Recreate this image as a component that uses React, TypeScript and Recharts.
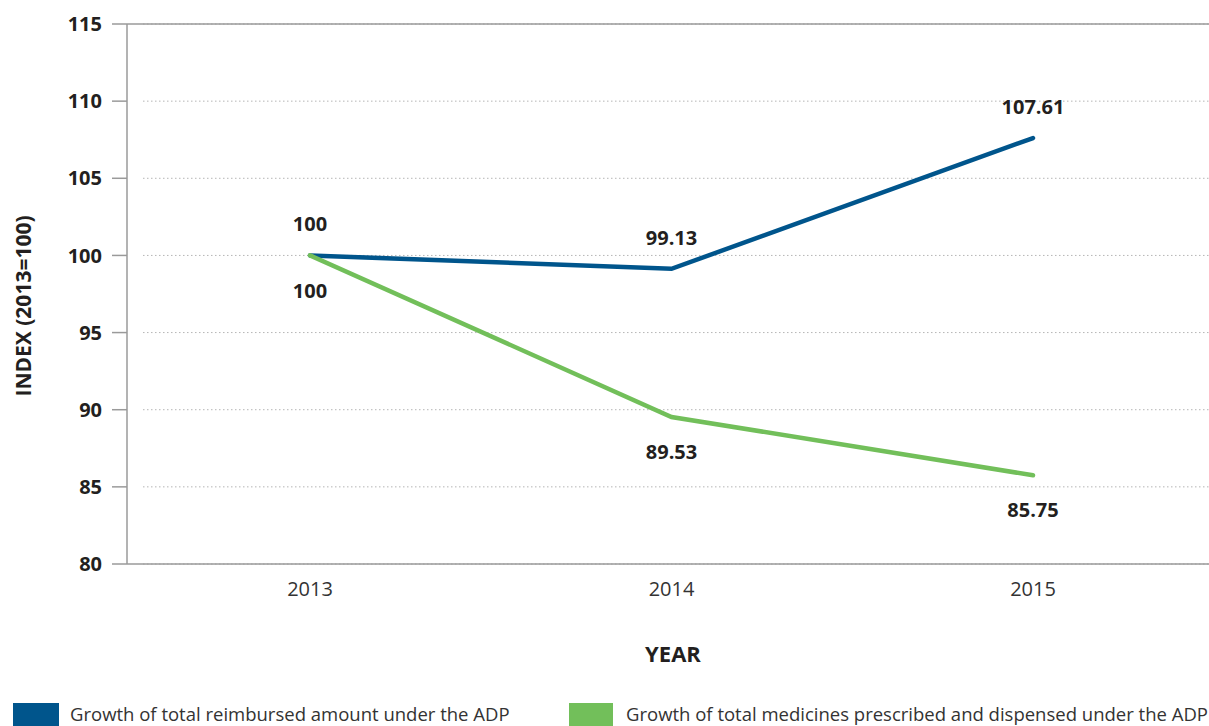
import { LineChart, Line, XAxis, YAxis, CartesianGrid, ReferenceLine, LabelList, Label, Legend } from 'recharts';

const years = ['2013', '2014', '2015'];
const reimbursed = [100, 99.13, 107.61];
const medicines = [100, 89.53, 85.75];
const yTicks = [80, 85, 90, 95, 100, 105, 110, 115];

const BLUE = '#00558c';
const GREEN = '#72bf5a';
const AXIS = '#9a9a9a';
const FONT = '"Open Sans", "Noto Sans", sans-serif';

const data = years.map((year, i) => ({
  year,
  reimbursed: reimbursed[i],
  medicines: medicines[i],
}));

const gridLine = (props: any) => {
  const { x1, x2, y1, y2 } = props;
  return (
    <line
      key={`g-${y1}`}
      x1={x1 + 16}
      x2={x2}
      y1={y1}
      y2={y2}
      stroke="#b5b5b5"
      strokeWidth={1}
      strokeDasharray="1.5 2.5"
    />
  );
};

const YTitle = (props: any) => {
  const { viewBox } = props;
  const cy = viewBox.y + viewBox.height / 2 + 12;
  return (
    <text
      x={23}
      y={cy}
      transform={`rotate(-90, 23, ${cy})`}
      textAnchor="middle"
      dominantBaseline="central"
      fontFamily={FONT}
      fontWeight={700}
      fontSize={21}
      fill="#231f20"
    >
      INDEX (2013=100)
    </text>
  );
};

const XTitle = (props: any) => {
  const { viewBox } = props;
  return (
    <text
      x={673}
      y={viewBox.y + 98}
      textAnchor="middle"
      fontFamily={FONT}
      fontWeight={700}
      fontSize={22}
      fill="#231f20"
    >
      YEAR
    </text>
  );
};

const LegendBox = () => (
  <div style={{ position: 'relative', height: 30, fontFamily: FONT, fontSize: 18.5, color: '#333' }}>
    <div style={{ position: 'absolute', left: 13, bottom: 0, width: 46, height: 23, background: BLUE }} />
    <div style={{ position: 'absolute', left: 70, bottom: 0, lineHeight: '24px', whiteSpace: 'nowrap' }}>
      Growth of total reimbursed amount under the ADP
    </div>
    <div style={{ position: 'absolute', left: 569, bottom: 0, width: 44, height: 23, background: GREEN }} />
    <div style={{ position: 'absolute', left: 626, bottom: 0, lineHeight: '24px', whiteSpace: 'nowrap' }}>
      Growth of total medicines prescribed and dispensed under the ADP
    </div>
  </div>
);

const labelStyle = { fontFamily: FONT, fontWeight: 700, fontSize: 20, fill: '#231f20' };

export default function App() {
  return (
    <div style={{ position: 'absolute', left: 0, top: 0, width: 1209, height: 726, background: '#fff' }}>
      <LineChart
        width={1209}
        height={726}
        data={data}
        margin={{ top: 24, right: 0, bottom: 0, left: 0 }}
      >
        <CartesianGrid vertical={false} horizontal={gridLine} />
        <ReferenceLine y={115} stroke={AXIS} strokeWidth={1.5} />
        <XAxis
          dataKey="year"
          height={132}
          padding={{ left: 183, right: 176 }}
          tickLine={false}
          tickSize={0}
          tickMargin={18}
          axisLine={{ stroke: AXIS, strokeWidth: 1.5 }}
          tick={{ fontFamily: FONT, fontSize: 20, fill: '#333' }}
        >
          <Label content={XTitle} />
        </XAxis>
        <YAxis
          width={127}
          domain={[80, 115]}
          ticks={yTicks}
          interval={0}
          tickSize={15}
          tickMargin={10}
          tickLine={{ stroke: AXIS, strokeWidth: 1.5 }}
          axisLine={{ stroke: AXIS, strokeWidth: 1.5 }}
          tick={{ fontFamily: FONT, fontSize: 20, fontWeight: 700, fill: '#231f20' }}
        >
          <Label content={YTitle} />
        </YAxis>
        <Legend verticalAlign="bottom" content={LegendBox} />
        <Line
          dataKey="reimbursed"
          stroke={BLUE}
          strokeWidth={4.5}
          strokeLinecap="round"
          dot={false}
          activeDot={false}
          isAnimationActive={false}
        >
          <LabelList dataKey="reimbursed" position="top" offset={24} style={labelStyle} />
        </Line>
        <Line
          dataKey="medicines"
          stroke={GREEN}
          strokeWidth={4.5}
          strokeLinecap="round"
          dot={false}
          activeDot={false}
          isAnimationActive={false}
        >
          <LabelList dataKey="medicines" position="bottom" offset={28} style={labelStyle} />
        </Line>
      </LineChart>
    </div>
  );
}
